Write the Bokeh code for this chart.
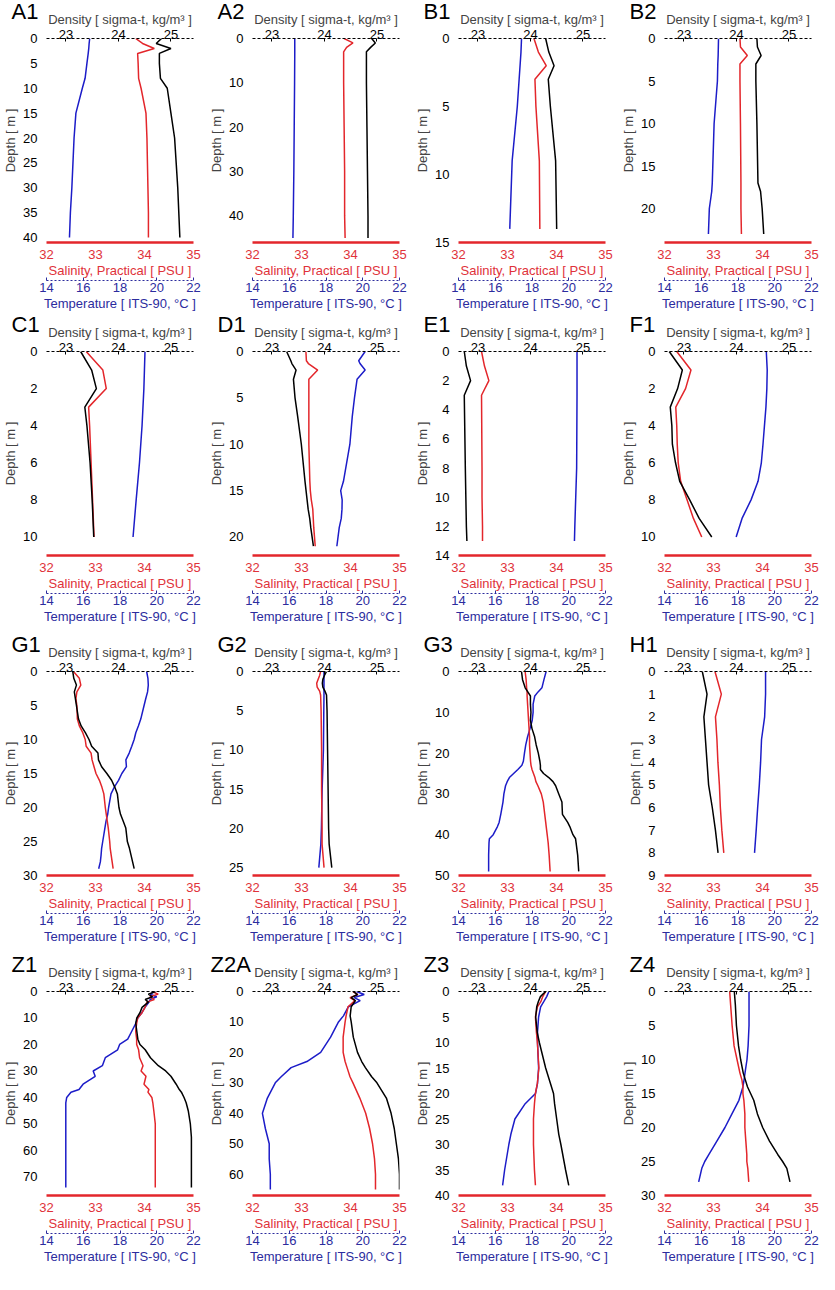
from bokeh.plotting import figure
from bokeh.models import Range1d, FixedTicker, LinearAxis, Title
from bokeh.layouts import gridplot
from bokeh.embed import file_html
from bokeh.resources import INLINE

FONT = "Liberation Sans"

# ---------------- data (depth m, density sigma-t, salinity PSU, temperature degC) -------------
A1_depth = [0, 1, 2, 3, 5, 8, 10, 15, 20, 25, 30, 35, 40]
A1_dens = [24.82, 24.72, 25.0, 24.78, 24.78, 24.80, 24.93, 25.0, 25.07, 25.10, 25.13, 25.15, 25.17]
A1_sal = [33.82, 33.96, 34.20, 33.86, 33.87, 33.88, 33.93, 34.03, 34.05, 34.06, 34.07, 34.08, 34.08]
A1_temp = [16.35, 16.32, 16.30, 16.27, 16.20, 16.10, 15.95, 15.60, 15.50, 15.44, 15.38, 15.30, 15.25]

A2_depth = [0, 1, 2, 3, 10, 20, 30, 40, 45]
A2_dens = [24.90, 24.97, 24.88, 24.80, 24.80, 24.81, 24.82, 24.83, 24.83]
A2_sal = [33.87, 34.05, 33.92, 33.86, 33.86, 33.87, 33.88, 33.88, 33.89]
A2_temp = [16.30, 16.30, 16.30, 16.30, 16.29, 16.27, 16.25, 16.22, 16.20]

B1_depth = [0, 1, 2, 3, 5, 9, 14]
B1_dens = [24.29, 24.35, 24.45, 24.34, 24.38, 24.48, 24.50]
B1_sal = [33.54, 33.63, 33.79, 33.56, 33.58, 33.65, 33.66]
B1_temp = [17.43, 17.40, 17.35, 17.30, 17.20, 16.92, 16.79]

B2_depth = [0, 1, 2, 3, 5, 10, 17, 18, 20, 23]
B2_dens = [24.39, 24.40, 24.47, 24.37, 24.37, 24.39, 24.41, 24.46, 24.49, 24.52]
B2_sal = [33.54, 33.55, 33.69, 33.54, 33.54, 33.55, 33.56, 33.56, 33.56, 33.57]
B2_temp = [16.94, 16.93, 16.92, 16.90, 16.88, 16.70, 16.60, 16.57, 16.44, 16.39]

C1_depth = [0, 1, 2, 3, 4, 6, 8, 10]
C1_dens = [23.28, 23.49, 23.58, 23.36, 23.40, 23.46, 23.50, 23.53]
C1_sal = [32.81, 33.15, 33.22, 32.86, 32.88, 32.91, 32.94, 32.97]
C1_temp = [19.36, 19.33, 19.30, 19.25, 19.20, 19.06, 18.88, 18.71]

D1_depth = [0, 1, 1.3, 2, 3, 5, 7, 10, 14, 15, 16, 17, 18, 19, 21]
D1_dens = [23.28, 23.36, 23.38, 23.46, 23.41, 23.44, 23.49, 23.56, 23.63, 23.65, 23.67, 23.69, 23.72, 23.74, 23.79]
D1_sal = [33.09, 33.10, 33.14, 33.33, 33.15, 33.15, 33.15, 33.15, 33.17, 33.18, 33.20, 33.23, 33.24, 33.25, 33.28]
D1_temp = [20.13, 19.78, 19.85, 20.13, 19.69, 19.55, 19.43, 19.30, 18.95, 18.80, 18.88, 18.87, 18.83, 18.72, 18.59]

E1_depth = [0, 1, 2, 3, 8, 10, 12, 13]
E1_dens = [22.74, 22.78, 22.86, 22.74, 22.76, 22.77, 22.78, 22.79]
E1_sal = [32.47, 32.53, 32.62, 32.47, 32.48, 32.48, 32.49, 32.49]
E1_temp = [20.45, 20.45, 20.45, 20.45, 20.43, 20.38, 20.33, 20.31]

F1_depth = [0, 1, 2, 3, 4, 5, 6, 7, 8, 9, 10]
F1_dens = [22.72, 22.97, 22.88, 22.74, 22.77, 22.78, 22.84, 22.92, 23.11, 23.29, 23.53]
F1_sal = [32.25, 32.54, 32.43, 32.23, 32.25, 32.26, 32.28, 32.33, 32.46, 32.59, 32.76]
F1_temp = [19.54, 19.59, 19.57, 19.52, 19.44, 19.36, 19.27, 19.09, 18.71, 18.22, 17.90]

G1_depth = [0, 1, 2, 3, 4, 5, 7, 8, 9, 10, 11, 12, 13, 14, 15, 16, 17, 18, 20, 21, 22, 23, 25, 26, 27, 28, 29]
G1_dens = [23.13, 23.15, 23.20, 23.16, 23.18, 23.20, 23.24, 23.29, 23.37, 23.44, 23.49, 23.61, 23.62, 23.68,
           23.78, 23.87, 23.93, 23.98, 24.01, 24.04, 24.09, 24.14, 24.17, 24.21, 24.24, 24.27, 24.30]
G1_sal = [32.55, 32.67, 32.70, 32.62, 32.60, 32.62, 32.63, 32.67, 32.74, 32.79, 32.81, 32.91, 32.93, 32.97,
          33.01, 33.08, 33.13, 33.17, 33.20, 33.22, 33.24, 33.26, 33.29, 33.30, 33.32, 33.34, 33.36]
G1_temp = [19.45, 19.52, 19.54, 19.50, 19.40, 19.31, 19.13, 19.00, 18.86, 18.77, 18.64, 18.50, 18.32, 18.35,
           18.10, 17.92, 17.69, 17.51, 17.38, 17.33, 17.24, 17.18, 17.06, 17.00, 16.97, 16.93, 16.84]

G2_depth = [0, 0.5, 1, 1.5, 2, 2.5, 3, 5, 10, 15, 20, 22, 25]
G2_dens = [24.04, 24.00, 23.97, 23.96, 23.97, 24.01, 24.04, 24.05, 24.06, 24.07, 24.08, 24.09, 24.14]
G2_sal = [33.39, 33.37, 33.34, 33.31, 33.32, 33.37, 33.39, 33.40, 33.41, 33.41, 33.42, 33.42, 33.46]
G2_temp = [17.89, 17.89, 17.89, 17.89, 17.89, 17.89, 17.89, 17.88, 17.86, 17.79, 17.75, 17.72, 17.61]

G3_depth = [0, 2, 4, 5, 6, 8, 10, 12, 14, 16, 18, 20, 22, 23, 24, 25, 26, 27, 28, 30, 32, 35, 37, 38, 40, 41, 42, 45, 49]
G3_dens = [23.83, 23.85, 23.90, 23.95, 24.00, 24.00, 24.01, 24.00, 24.03, 24.08, 24.11, 24.15, 24.18, 24.19, 24.19,
           24.25, 24.35, 24.43, 24.48, 24.54, 24.60, 24.61, 24.71, 24.75, 24.81, 24.86, 24.87, 24.90, 24.92]
G3_sal = [33.36, 33.38, 33.39, 33.40, 33.40, 33.41, 33.42, 33.43, 33.44, 33.45, 33.45, 33.46, 33.47, 33.48, 33.50,
          33.53, 33.56, 33.58, 33.62, 33.69, 33.73, 33.76, 33.78, 33.79, 33.81, 33.82, 33.83, 33.85, 33.87]
G3_temp = [18.77, 18.65, 18.54, 18.33, 18.15, 18.06, 18.06, 18.01, 17.89, 17.76, 17.66, 17.59, 17.53, 17.45, 17.23,
           17.00, 16.77, 16.65, 16.56, 16.47, 16.42, 16.30, 16.21, 16.12, 15.89, 15.68, 15.66, 15.64, 15.64]

H1_depth = [0, 1, 2, 3, 4, 5, 6, 7, 8]
H1_dens = [23.35, 23.44, 23.38, 23.41, 23.44, 23.47, 23.54, 23.60, 23.65]
H1_sal = [33.03, 33.16, 33.04, 33.07, 33.09, 33.12, 33.14, 33.17, 33.21]
H1_temp = [19.50, 19.50, 19.45, 19.28, 19.23, 19.16, 19.07, 18.99, 18.90]

Z1_depth = [0, 1, 2, 3, 4, 6, 8, 10, 12, 15, 18, 20, 22, 25, 28, 30, 32, 35, 37, 38, 40, 42, 45, 50, 55, 60, 65, 70, 74]
Z1_dens = [24.71, 24.57, 24.65, 24.51, 24.57, 24.45, 24.41, 24.35, 24.33, 24.35, 24.37, 24.41, 24.51, 24.61, 24.76,
           24.90, 25.00, 25.10, 25.16, 25.20, 25.25, 25.29, 25.33, 25.37, 25.39, 25.39, 25.39, 25.39, 25.39]
Z1_sal = [34.15, 34.28, 34.11, 34.20, 34.05, 34.01, 33.95, 33.86, 33.84, 33.82, 33.84, 33.84, 33.88, 33.90, 33.97,
          33.93, 34.03, 33.99, 34.09, 34.07, 34.15, 34.17, 34.19, 34.22, 34.22, 34.22, 34.22, 34.22, 34.22]
Z1_temp = [19.90, 19.64, 20.00, 19.64, 19.58, 19.36, 19.19, 18.97, 18.86, 18.64, 18.42, 17.98, 17.87, 17.20, 17.04,
           16.54, 16.65, 15.99, 15.77, 15.33, 15.10, 15.05, 15.05, 15.05, 15.05, 15.05, 15.05, 15.05, 15.05]

Z2A_depth = [0, 1, 2, 3, 5, 8, 10, 15, 20, 23, 25, 28, 30, 35, 40, 45, 50, 55, 60, 65]
Z2A_dens = [24.55, 24.63, 24.51, 24.59, 24.51, 24.49, 24.51, 24.55, 24.63, 24.71, 24.78, 24.90, 25.00, 25.18,
            25.27, 25.33, 25.37, 25.41, 25.43, 25.43]
Z2A_sal = [34.05, 34.15, 33.99, 34.09, 33.95, 33.91, 33.89, 33.85, 33.85, 33.89, 33.93, 33.99, 34.05, 34.19,
           34.31, 34.39, 34.45, 34.49, 34.51, 34.51]
Z2A_temp = [19.65, 20.08, 19.54, 19.86, 19.22, 18.95, 18.68, 18.25, 17.71, 16.96, 16.10, 15.56, 15.24, 14.81,
            14.54, 14.70, 14.91, 14.91, 14.97, 14.97]

Z3_depth = [0, 1, 2, 3, 5, 8, 10, 15, 18, 20, 22, 25, 28, 30, 35, 38]
Z3_dens = [24.29, 24.19, 24.15, 24.12, 24.10, 24.13, 24.17, 24.29, 24.38, 24.44, 24.46, 24.50, 24.54, 24.58, 24.67, 24.73]
Z3_sal = [33.78, 33.72, 33.68, 33.61, 33.57, 33.59, 33.61, 33.64, 33.61, 33.57, 33.55, 33.53, 33.53, 33.53, 33.55, 33.57]
Z3_temp = [18.92, 18.80, 18.64, 18.47, 18.36, 18.30, 18.30, 18.36, 18.30, 18.19, 17.63, 17.07, 16.85, 16.74, 16.51, 16.40]

Z4_depth = [0, 2, 5, 8, 10, 12, 13, 14, 15, 16, 18, 20, 22, 24, 25, 26, 28]
Z4_dens = [23.96, 23.98, 24.00, 24.04, 24.08, 24.13, 24.17, 24.21, 24.27, 24.33, 24.40, 24.50, 24.63, 24.79, 24.88, 24.96, 25.02]
Z4_sal = [33.33, 33.35, 33.38, 33.42, 33.48, 33.54, 33.58, 33.60, 33.60, 33.62, 33.64, 33.64, 33.66, 33.68, 33.68, 33.70, 33.72]
Z4_temp = [18.60, 18.60, 18.60, 18.55, 18.49, 18.38, 18.33, 18.27, 18.16, 18.05, 17.67, 17.29, 16.85, 16.41, 16.19, 16.03, 15.86]

# panel names, depth-axis maxima and depth tick labels
names = ["A1", "A2", "B1", "B2", "C1", "D1", "E1", "F1", "G1", "G2", "G3", "H1", "Z1", "Z2A", "Z3", "Z4"]
depth_max = [41, 46, 15, 24, 11, 22, 14, 11, 30, 26, 50, 9, 77, 67, 40, 30]
depth_ticks = [
    [0, 5, 10, 15, 20, 25, 30, 35, 40], [0, 10, 20, 30, 40], [0, 5, 10, 15], [0, 5, 10, 15, 20],
    [0, 2, 4, 6, 8, 10], [0, 5, 10, 15, 20], [0, 2, 4, 6, 8, 10, 12, 14], [0, 2, 4, 6, 8, 10],
    [0, 5, 10, 15, 20, 25, 30], [0, 5, 10, 15, 20, 25], [0, 10, 20, 30, 40, 50], [0, 1, 2, 3, 4, 5, 6, 7, 8, 9],
    [0, 10, 20, 30, 40, 50, 60, 70], [0, 10, 20, 30, 40, 50, 60], [0, 5, 10, 15, 20, 25, 30, 35, 40],
    [0, 5, 10, 15, 20, 25, 30],
]
profiles = [
    (A1_depth, A1_dens, A1_sal, A1_temp), (A2_depth, A2_dens, A2_sal, A2_temp),
    (B1_depth, B1_dens, B1_sal, B1_temp), (B2_depth, B2_dens, B2_sal, B2_temp),
    (C1_depth, C1_dens, C1_sal, C1_temp), (D1_depth, D1_dens, D1_sal, D1_temp),
    (E1_depth, E1_dens, E1_sal, E1_temp), (F1_depth, F1_dens, F1_sal, F1_temp),
    (G1_depth, G1_dens, G1_sal, G1_temp), (G2_depth, G2_dens, G2_sal, G2_temp),
    (G3_depth, G3_dens, G3_sal, G3_temp), (H1_depth, H1_dens, H1_sal, H1_temp),
    (Z1_depth, Z1_dens, Z1_sal, Z1_temp), (Z2A_depth, Z2A_dens, Z2A_sal, Z2A_temp),
    (Z3_depth, Z3_dens, Z3_sal, Z3_temp), (Z4_depth, Z4_dens, Z4_sal, Z4_temp),
]

sal_ticks = [32, 33, 34, 35]
temp_ticks = [14, 16, 18, 20, 22]
dens_ticks = [23, 24, 25]
sal_range = (32, 35)
temp_range = (14, 22)
dens_range = (22.63, 25.43)

RED = "#e3262b"
BLUE = "#1c1cc8"
NAVY = "#2c2c9e"
SAL_TXT = "#e0323a"

FRAME_H = 204
FIG_W = 206
TOP = 38
row_heights = [308, 320, 320, 310]


def base_axis_style(ax):
    ax.major_label_text_font = FONT
    ax.axis_label_text_font = FONT
    ax.major_label_text_font_size = "13px"
    ax.axis_label_text_font_size = "13px"
    ax.axis_label_text_font_style = "normal"
    ax.minor_tick_line_color = None


def make_panel(i):
    name = names[i]
    depth, dens, sal, temp = profiles[i]
    r = i // 4
    p = figure(width=FIG_W, frame_height=FRAME_H,
               x_range=Range1d(*sal_range), y_range=Range1d(depth_max[i], 0),
               output_backend="svg", toolbar_location=None,
               min_border_left=41, min_border_right=13, min_border_top=TOP,
               min_border_bottom=row_heights[r] - TOP - FRAME_H,
               background_fill_color="white", border_fill_color="white")
    p.outline_line_color = None
    p.grid.visible = False
    p.extra_x_ranges = {"dens": Range1d(*dens_range), "temp": Range1d(*temp_range)}

    # salinity axis (bottom, red)
    sx = p.xaxis[0]
    base_axis_style(sx)
    sx.ticker = FixedTicker(ticks=sal_ticks)
    sx.axis_label = "Salinity, Practical [ PSU ]"
    sx.axis_line_color = RED
    sx.axis_line_width = 2.5
    sx.major_tick_line_color = None
    sx.major_label_standoff = 1
    sx.axis_label_standoff = 1
    sx.major_label_text_color = SAL_TXT
    sx.axis_label_text_color = SAL_TXT

    # temperature axis (second bottom axis, blue)
    tx = LinearAxis(x_range_name="temp", ticker=FixedTicker(ticks=temp_ticks),
                    axis_label="Temperature [ ITS-90, °C ]")
    base_axis_style(tx)
    tx.axis_line_color = NAVY
    tx.axis_line_dash = "2 2"
    tx.axis_line_width = 1.2
    tx.major_tick_line_color = NAVY
    tx.major_tick_in = 3
    tx.major_tick_out = 0
    tx.major_label_standoff = 2
    tx.axis_label_standoff = 1
    tx.major_label_text_color = NAVY
    tx.axis_label_text_color = NAVY
    p.add_layout(tx, "below")

    # density axis (top, black)
    dx = LinearAxis(x_range_name="dens", ticker=FixedTicker(ticks=dens_ticks),
                    axis_label="Density [ sigma-t, kg/m³ ]")
    base_axis_style(dx)
    dx.axis_line_color = "black"
    dx.axis_line_dash = "3 2"
    dx.axis_line_width = 1.2
    dx.major_tick_in = 3
    dx.major_tick_out = 0
    dx.major_label_standoff = 0
    dx.axis_label_standoff = 0
    dx.major_label_text_color = "black"
    p.add_layout(dx, "above")

    # panel name: zero-height title row, drawn over the left end of the density header
    off = -42 if len(name) > 2 else -35
    p.add_layout(Title(text=name, align="left", vertical_align="bottom", offset=off, standoff=-30,
                       text_font=FONT, text_font_size="22px", text_font_style="normal",
                       text_color="black"), "above")

    # depth axis (left)
    yx = p.yaxis[0]
    base_axis_style(yx)
    yx.ticker = FixedTicker(ticks=depth_ticks[i])
    yx.axis_label = "Depth [ m ]"
    yx.axis_line_color = None
    yx.major_tick_line_color = None
    yx.major_label_standoff = 3
    yx.axis_label_standoff = 2
    yx.major_label_text_color = "black"

    p.line(temp, depth, x_range_name="temp", line_color=BLUE, line_width=1.5)
    p.line(sal, depth, line_color=RED, line_width=1.5)
    p.line(dens, depth, x_range_name="dens", line_color="black", line_width=1.5)
    return p


panels = [make_panel(i) for i in range(16)]
grid = gridplot([panels[0:4], panels[4:8], panels[8:12], panels[12:16]], toolbar_location=None)

open("out.html", "w").write(file_html(grid, INLINE))
